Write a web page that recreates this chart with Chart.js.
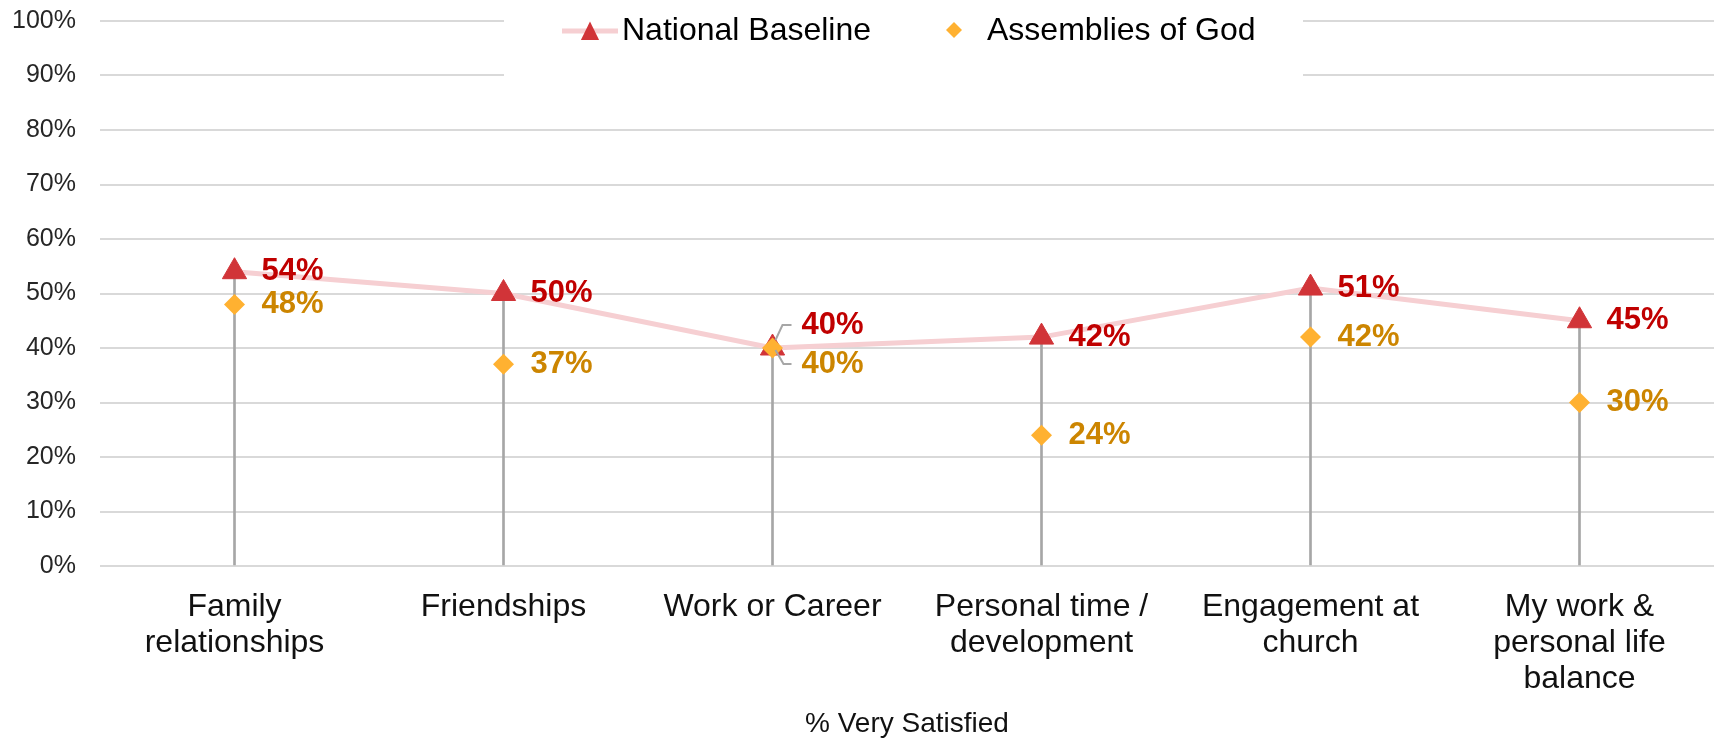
<!DOCTYPE html>
<html>
<head>
<meta charset="utf-8">
<script src="https://cdn.jsdelivr.net/npm/chart.js@4.4.1/dist/chart.umd.min.js"></script>
<style>
  html, body { margin: 0; padding: 0; overflow: hidden; background: #ffffff; }
  #wrap { width: 1729px; height: 739px; }
</style>
</head>
<body>
<div id="wrap"><canvas id="c" width="1729" height="739"></canvas></div>
<script>
const categories = [
  ['Family', 'relationships'],
  ['Friendships'],
  ['Work or Career'],
  ['Personal time /', 'development'],
  ['Engagement at', 'church'],
  ['My work &', 'personal life', 'balance']
];
const nationalBaseline = [54, 50, 40, 42, 51, 45];
const assembliesOfGod = [48, 37, 40, 24, 42, 30];
const yTicks = [0, 10, 20, 30, 40, 50, 60, 70, 80, 90, 100];
const seriesNames = ['National Baseline', 'Assemblies of God'];
const axisTitle = '% Very Satisfied';

const FONT = '"Liberation Sans", Arial, Helvetica, sans-serif';
const RED_MARK = '#D13438';
const RED_LINE = '#F6CFD2';
const RED_TEXT = '#C00000';
const GOLD_MARK = '#FFB131';
const GOLD_TEXT = '#CC8500';
const DROP = '#A6A6A6';

const labelPlugin = {
  id: 'pointLabels',
  afterDatasetsDraw(chart) {
    const ctx = chart.ctx;
    const nat = chart.getDatasetMeta(1);
    const aog = chart.getDatasetMeta(2);
    ctx.save();
    ctx.font = 'bold 31px ' + FONT;
    ctx.textBaseline = 'middle';
    ctx.textAlign = 'left';
    nat.data.forEach((p, i) => {
      const a = aog.data[i];
      const close = Math.abs(p.y - a.y) < 30;
      if (!close) {
        ctx.fillStyle = RED_TEXT;
        ctx.fillText(nationalBaseline[i] + '%', p.x + 27, p.y);
        ctx.fillStyle = GOLD_TEXT;
        ctx.fillText(assembliesOfGod[i] + '%', a.x + 27, a.y);
      } else {
        const ry = p.y - 23, gy = a.y + 16;
        ctx.strokeStyle = DROP;
        ctx.lineWidth = 2;
        ctx.beginPath();
        ctx.moveTo(p.x + 19, ry); ctx.lineTo(p.x + 10, ry); ctx.lineTo(p.x + 3, p.y - 8);
        ctx.moveTo(a.x + 3, a.y + 2); ctx.lineTo(a.x + 11, gy); ctx.lineTo(a.x + 19, gy);
        ctx.stroke();
        ctx.fillStyle = RED_TEXT;
        ctx.fillText(nationalBaseline[i] + '%', p.x + 29, ry);
        ctx.fillStyle = GOLD_TEXT;
        ctx.fillText(assembliesOfGod[i] + '%', a.x + 29, gy);
      }
    });
    ctx.restore();
  }
};

const legendPlugin = {
  id: 'customLegend',
  afterDraw(chart) {
    const ctx = chart.ctx;
    ctx.save();
    ctx.fillStyle = '#ffffff';
    ctx.fillRect(504, 0, 799, 82);
    const cy = 31;
    // National Baseline
    ctx.strokeStyle = RED_LINE;
    ctx.lineWidth = 5;
    ctx.beginPath(); ctx.moveTo(562, cy); ctx.lineTo(618, cy); ctx.stroke();
    ctx.fillStyle = RED_MARK;
    const r = 10.5, tx = 590, ty = cy + 1;
    ctx.beginPath();
    ctx.moveTo(tx, ty - r);
    ctx.lineTo(tx + r * 0.866, ty + r * 0.75);
    ctx.lineTo(tx - r * 0.866, ty + r * 0.75);
    ctx.closePath(); ctx.fill();
    ctx.font = '32px ' + FONT;
    ctx.textBaseline = 'middle';
    ctx.textAlign = 'left';
    ctx.fillStyle = '#000000';
    ctx.fillText(seriesNames[0], 622, cy);
    // Assemblies of God
    ctx.fillStyle = GOLD_MARK;
    const dx = 954, dy = cy - 1, d = 8;
    ctx.beginPath();
    ctx.moveTo(dx, dy - d); ctx.lineTo(dx + d, dy); ctx.lineTo(dx, dy + d); ctx.lineTo(dx - d, dy);
    ctx.closePath(); ctx.fill();
    ctx.fillStyle = '#000000';
    ctx.fillText(seriesNames[1], 987, cy);
    ctx.restore();
  }
};

new Chart(document.getElementById('c'), {
  type: 'line',
  data: {
    labels: categories,
    datasets: [
      {
        type: 'bar',
        label: 'drop',
        data: nationalBaseline,
        backgroundColor: DROP,
        borderWidth: 0,
        barThickness: 2,
        order: 3
      },
      {
        type: 'line',
        label: seriesNames[0],
        data: nationalBaseline,
        borderColor: RED_LINE,
        borderWidth: 5,
        tension: 0,
        pointStyle: 'triangle',
        pointRadius: 14,
        pointBackgroundColor: RED_MARK,
        pointBorderColor: RED_MARK,
        pointBorderWidth: 1,
        order: 2
      },
      {
        type: 'line',
        label: seriesNames[1],
        data: assembliesOfGod,
        showLine: false,
        pointStyle: 'rectRot',
        pointRadius: 10.5,
        pointBackgroundColor: GOLD_MARK,
        pointBorderColor: GOLD_MARK,
        pointBorderWidth: 0,
        order: 1
      }
    ]
  },
  options: {
    responsive: false,
    animation: false,
    events: [],
    layout: { padding: { top: 21, right: 0, left: 0, bottom: 0 } },
    plugins: {
      legend: { display: false },
      tooltip: { enabled: false }
    },
    scales: {
      x: {
        offset: true,
        grid: { display: false, drawTicks: false },
        border: { display: false },
        ticks: {
          color: '#111111',
          font: { family: FONT, size: 32, lineHeight: 1.125 },
          padding: 23,
          maxRotation: 0,
          autoSkip: false
        },
        title: {
          display: true,
          text: axisTitle,
          color: '#111111',
          font: { family: FONT, size: 28, lineHeight: 1.05 },
          padding: { top: 8, bottom: 0 }
        },
        afterFit(scale) { scale.height = 173; }
      },
      y: {
        min: 0,
        max: 100,
        afterBuildTicks(scale) { scale.ticks = yTicks.map(v => ({ value: v })); },
        grid: { color: '#D9D9D9', lineWidth: 2, drawTicks: false },
        border: { display: false },
        ticks: {
          color: '#262626',
          font: { family: FONT, size: 25 },
          padding: 24,
          callback: v => v + '%'
        },
        afterFit(scale) {
          scale.width = 100;
          scale.paddingTop = 0;
          scale.paddingBottom = 0;
        }
      }
    }
  },
  plugins: [labelPlugin, legendPlugin]
});
</script>
</body>
</html>
